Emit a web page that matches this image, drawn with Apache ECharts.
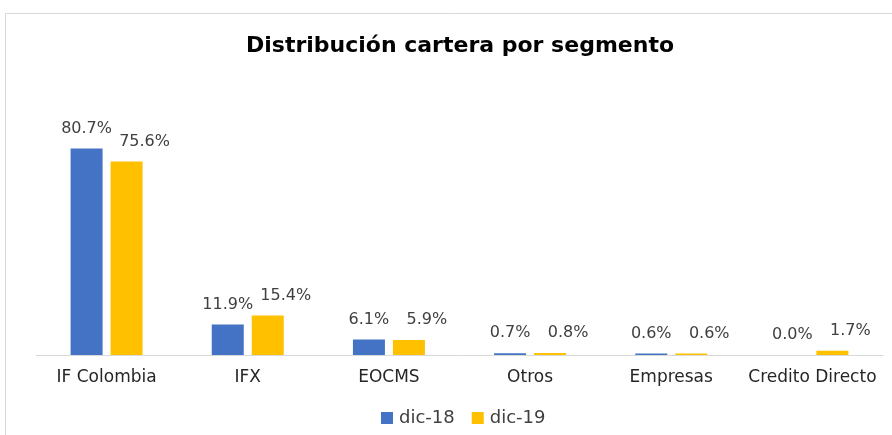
<!DOCTYPE html>
<html>
<head>
<meta charset="utf-8">
<script src="https://cdn.jsdelivr.net/npm/echarts@6/dist/echarts.min.js"></script>
<style>
  html, body { margin: 0; padding: 0; background: #fff; }
  #chart { width: 892px; height: 435px; }
</style>
</head>
<body>
<div id="chart"></div>
<script>
// datos del gráfico
const categorias = ["IF Colombia", "IFX", "EOCMS", "Otros", "Empresas", "Credito Directo"];
const dic18 = [80.7, 11.9, 6.1, 0.7, 0.6, 0.0];
const dic19 = [75.6, 15.4, 5.9, 0.8, 0.6, 1.7];
const nombresSeries = ["dic-18", "dic-19"];

const chart = echarts.init(document.getElementById("chart"));

// etiquetas de datos (las de dic-19 van desplazadas a la derecha como en Excel)
const etiqueta = (dx) => ({
  show: true,
  position: "top",
  distance: 12,
  offset: [dx, 0],
  color: "#404040",
  fontFamily: "DejaVu Sans",
  fontSize: 16,
  formatter: (p) => p.value.toFixed(1) + "%"
});

const option = {
  animation: false,
  backgroundColor: "#fff",
  title: {
    text: "Distribución cartera por segmento",
    left: 455,
    top: 30,
    textAlign: "center",
    textStyle: {
      fontFamily: "DejaVu Sans",
      fontWeight: "bold",
      fontSize: 22,
      color: "#000"
    }
  },
  // marco del gráfico
  graphic: [
    {
      type: "rect",
      shape: { x: 5.5, y: 13.5, width: 900, height: 440 },
      style: { fill: "none", stroke: "#d9d9d9", lineWidth: 1 },
      silent: true
    }
  ],
  legend: {
    data: nombresSeries,
    bottom: 3,
    left: 376,
    itemWidth: 12,
    itemHeight: 12,
    itemGap: 17,
    icon: "rect",
    textStyle: {
      fontFamily: "DejaVu Sans",
      fontSize: 18,
      color: "#404040",
      padding: [0, 0, 0, 1]
    }
  },
  grid: {
    left: 36,
    right: 9,
    top: 99,
    bottom: 80,
    containLabel: false
  },
  xAxis: {
    type: "category",
    data: categorias,
    axisLine: { lineStyle: { color: "#d9d9d9", width: 1 } },
    axisTick: { show: false },
    axisLabel: {
      interval: 0,
      margin: 14,
      color: "#262626",
      fontFamily: "DejaVu Sans",
      fontSize: 17
    }
  },
  yAxis: {
    type: "value",
    min: 0,
    max: 100,
    show: false,
    splitLine: { show: false }
  },
  series: [
    {
      name: nombresSeries[0],
      type: "bar",
      data: dic18,
      barWidth: 32,
      barGap: "25%",
      itemStyle: { color: "#4472C4" },
      label: etiqueta(0)
    },
    {
      name: nombresSeries[1],
      type: "bar",
      data: dic19,
      barWidth: 32,
      itemStyle: { color: "#FFC000" },
      label: etiqueta(18)
    }
  ]
};

chart.setOption(option);
</script>
</body>
</html>
